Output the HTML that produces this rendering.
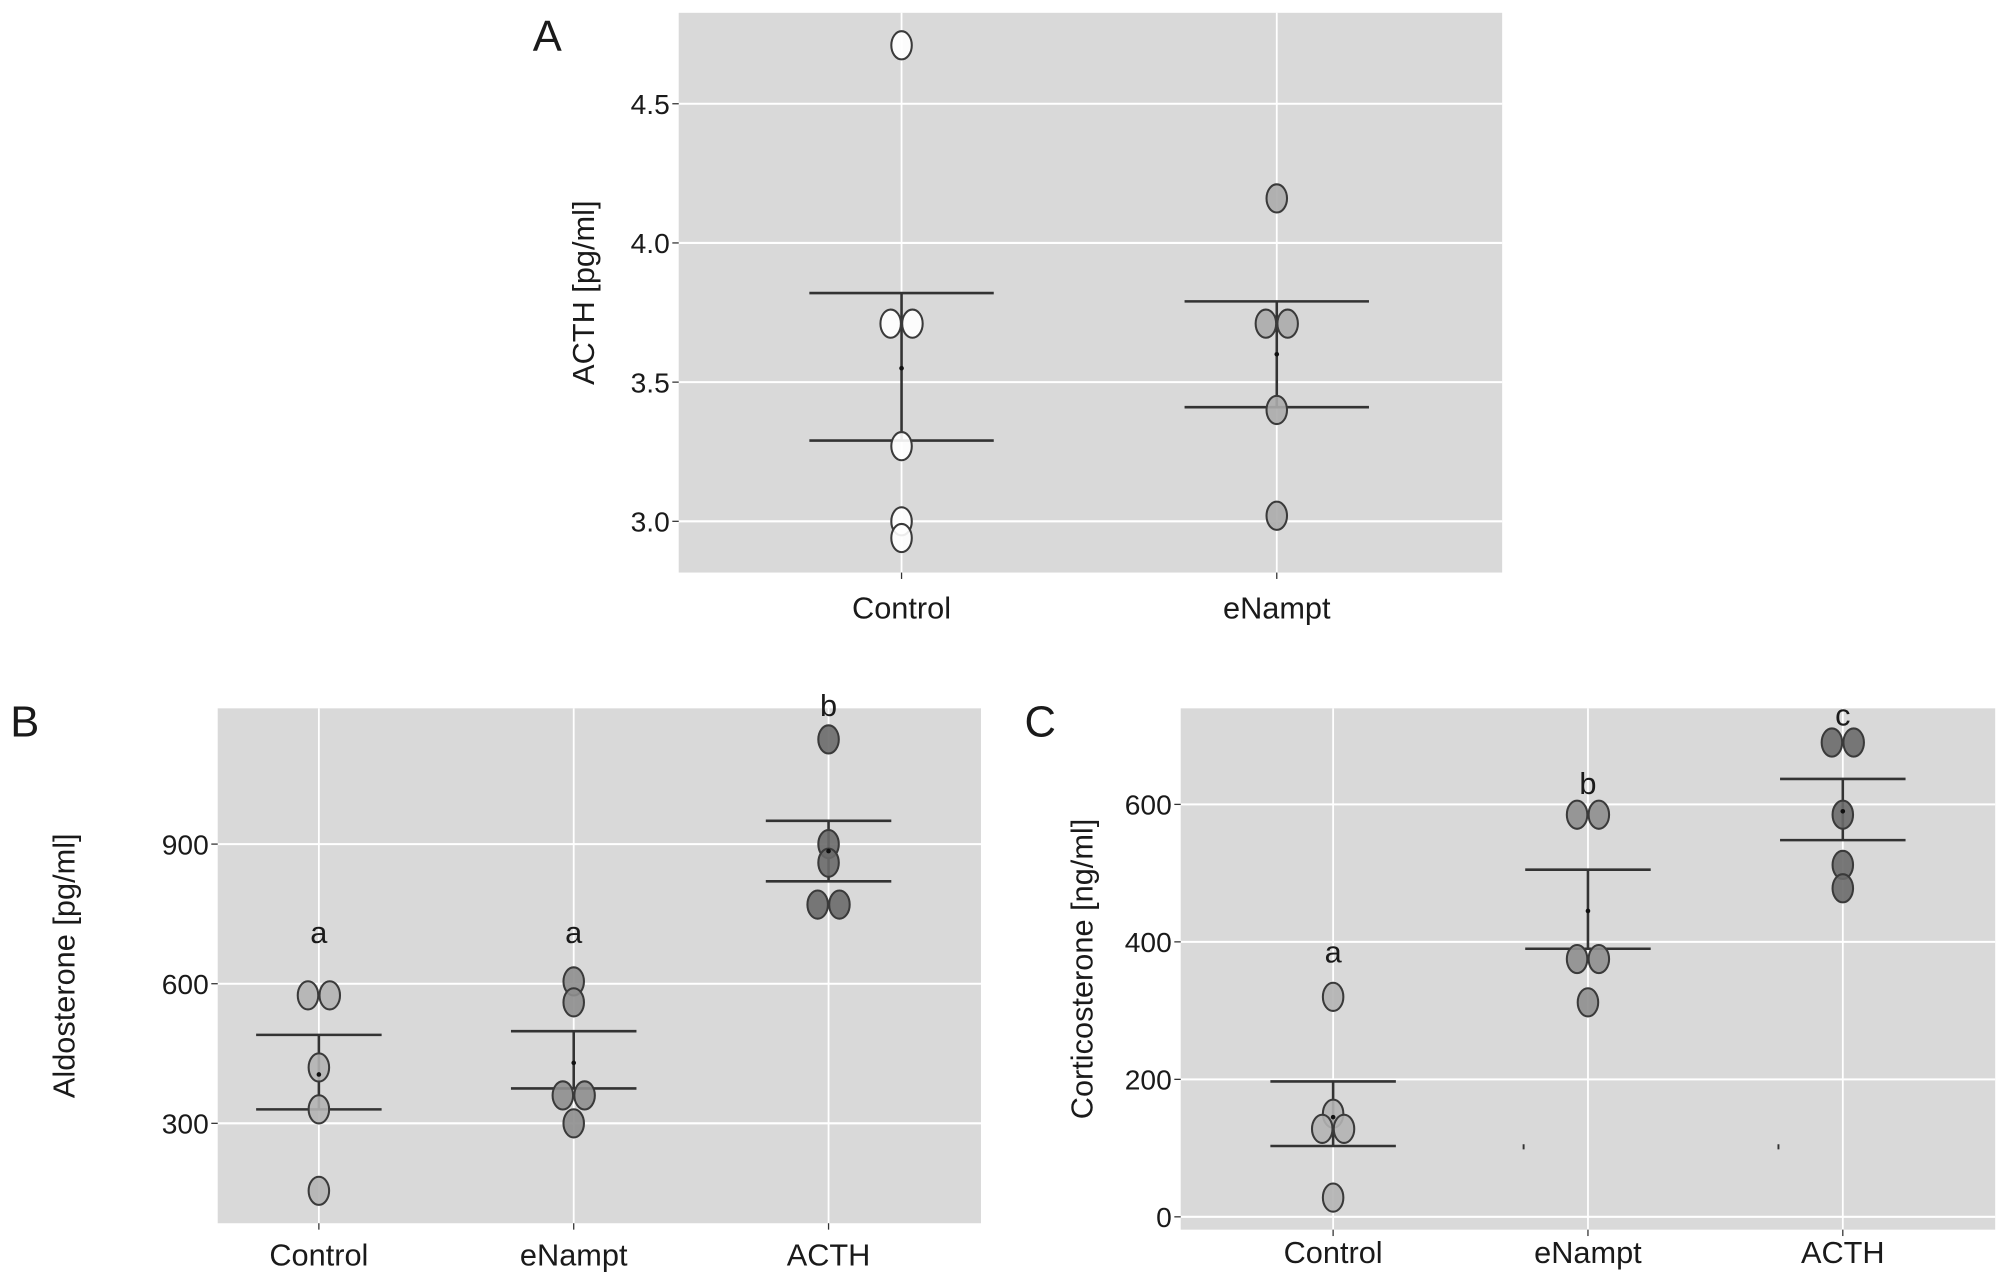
<!DOCTYPE html>
<html><head><meta charset="utf-8"><style>
html,body{margin:0;padding:0;background:#fff;}
svg{display:block;}
text{font-family:"Liberation Sans",sans-serif;fill:#1a1a1a;}
</style></head><body>
<svg id="fig" width="2008" height="1286" viewBox="0 0 1568 1004" preserveAspectRatio="none" xmlns="http://www.w3.org/2000/svg"></svg>
<script>
// Panel A data
const catsA = ["Control","eNampt"];
const ptsA = [[4.71,3.71,3.71,3.27,3.0,2.94],[4.16,3.71,3.71,3.40,3.02]];
const upA = [3.82,3.79];
const loA = [3.29,3.41];
const meanA = [3.55,3.60];
const ticksA = [3.0,3.5,4.0,4.5];
const tickLabA = ["3.0","3.5","4.0","4.5"];
// Panel B data
const catsB = ["Control","eNampt","ACTH"];
const ptsB = [[575,575,420,330,155],[605,560,360,360,300],[1125,900,860,770,770]];
const upB = [490,498,950];
const loB = [330,375,820];
const meanB = [405,430,885];
const letB = ["a","a","b"];
const letValB = [710,710,1197];
const ticksB = [300,600,900];
const tickLabB = ["300","600","900"];
// Panel C data
const catsC = ["Control","eNampt","ACTH"];
const ptsC = [[320,150,128,128,28],[585,585,375,375,312],[690,690,585,512,478]];
const upC = [197,505,637];
const loC = [103,390,548];
const meanC = [145,445,590];
const letC = ["a","b","c"];
const letValC = [385,630,730];
const strayC = [null,100,100];
const ticksC = [0,200,400,600];
const tickLabC = ["0","200","400","600"];

const svg = document.getElementById('fig');
const NS = "http://www.w3.org/2000/svg";
function mk(tag, attrs, parent){
  const e = document.createElementNS(NS, tag);
  for (const k in attrs) e.setAttribute(k, attrs[k]);
  (parent||svg).appendChild(e);
  return e;
}

function panel(o){
  const g = mk('g',{});
  
  
  const y = v => o.yRef0 + (v - o.vRef0) * (o.yRef1 - o.yRef0) / (o.vRef1 - o.vRef0);
  const x = i => o.xc[i];
  const bg = mk('rect',{x:o.x0,y:o.y0,width:o.x1-o.x0,height:o.y1-o.y0,fill:'#d9d9d9'},g);
  
  
  o.ticks.forEach((t,i)=>{
    const gl = mk('line',{x1:o.x0,x2:o.x1,y1:y(t),y2:y(t),stroke:'#fff','stroke-width':1.6},g);
    
    
    mk('line',{x1:o.x0-5,x2:o.x0,y1:y(t),y2:y(t),stroke:'#333','stroke-width':1},g);
    const tl = mk('text',{x:o.x0-7,y:y(t)+8,'text-anchor':'end','font-size':22},g);
    tl.textContent = o.tickLab[i];
    
    
  });
  o.cats.forEach((c,i)=>{
    const vl = mk('line',{x1:x(i),x2:x(i),y1:o.y0,y2:o.y1,stroke:'#fff','stroke-width':1.4},g);
    
    
    mk('line',{x1:x(i),x2:x(i),y1:o.y1,y2:o.y1+5,stroke:'#333','stroke-width':1},g);
    const xl = mk('text',{x:x(i),y:o.y1+o.xlOff,'text-anchor':'middle','font-size':24},g);
    xl.textContent = c;
    
    
    const eb = mk('g',{stroke:'#333','stroke-width':2},g);
    
    
    mk('line',{x1:x(i),x2:x(i),y1:y(o.up[i]),y2:y(o.lo[i])},eb);
    mk('line',{x1:x(i)-o.hw,x2:x(i)+o.hw,y1:y(o.up[i]),y2:y(o.up[i])},eb);
    mk('line',{x1:x(i)-o.hw,x2:x(i)+o.hw,y1:y(o.lo[i]),y2:y(o.lo[i])},eb);
    const vals = o.pts[i];
    vals.forEach((v,j)=>{
      const dup = vals.filter(w=>w===v).length>1;
      const k = vals.indexOf(v)===j ? -1 : 1;
      const cx = x(i) + (dup ? k*8.5 : 0);
      const p = mk('ellipse',{cx:cx,cy:y(v),rx:8,ry:11,fill:o.fill[i],stroke:'#3a3a3a','stroke-width':1.6,'fill-opacity':0.9},g);
      
      
    });
    const m = mk('circle',{cx:x(i),cy:y(o.mean[i]),r:1.8,fill:'#111'},g);
    
    
    if (o.stray && o.stray[i] !== null){
      const s = mk('rect',{x:x(i)-51,y:y(o.stray[i])-3,width:1.5,height:4,fill:'#333'},g);
      
      
    }
    if (o.let){
      const lt = mk('text',{x:x(i),y:y(o.letVal[i])+8,'text-anchor':'middle','font-size':24},g);
      lt.textContent = o.let[i];
      
      
    }
  });
  const yt = mk('text',{x:0,y:0,'text-anchor':'middle','font-size':24,transform:`translate(${o.ytX},${(o.y0+o.y1)/2}) rotate(-90)`},g);
  yt.textContent = o.ytitle;
  
  
  const pl = mk('text',{x:o.lx,y:o.ly,'font-size':34},g);
  pl.textContent = o.letter;
  
  
}

panel({name:'panel-a',x0:530,x1:1173,y0:10,y1:447,xc:[704,997],hw:72,xlOff:36,
  vRef0:3.0,yRef0:407,vRef1:4.5,yRef1:81,
  cats:catsA,pts:ptsA,up:upA,lo:loA,mean:meanA,ticks:ticksA,tickLab:tickLabA,
  fill:['#ffffff','#ababab'],ytitle:'ACTH [pg/ml]',ytX:464,letter:'A',lx:416,ly:40});
panel({name:'panel-b',x0:170,x1:766,y0:553,y1:955,xc:[249,448,647],hw:49,xlOff:33,
  vRef0:300,yRef0:877,vRef1:900,yRef1:659,
  cats:catsB,pts:ptsB,up:upB,lo:loB,mean:meanB,ticks:ticksB,tickLab:tickLabB,
  fill:['#b2b2b2','#8e8e8e','#6a6a6a'],let:letB,letVal:letValB,
  ytitle:'Aldosterone [pg/ml]',ytX:58,letter:'B',lx:8,ly:575});
panel({name:'panel-c',x0:922,x1:1558,y0:553,y1:960,xc:[1041,1240,1439],hw:49,xlOff:26,
  vRef0:0,yRef0:950,vRef1:600,yRef1:628,
  cats:catsC,pts:ptsC,up:upC,lo:loC,mean:meanC,ticks:ticksC,tickLab:tickLabC,
  fill:['#b2b2b2','#8e8e8e','#6a6a6a'],let:letC,letVal:letValC,stray:strayC,
  ytitle:'Corticosterone [ng/ml]',ytX:853,letter:'C',lx:800,ly:575});
</script>
</body></html>
